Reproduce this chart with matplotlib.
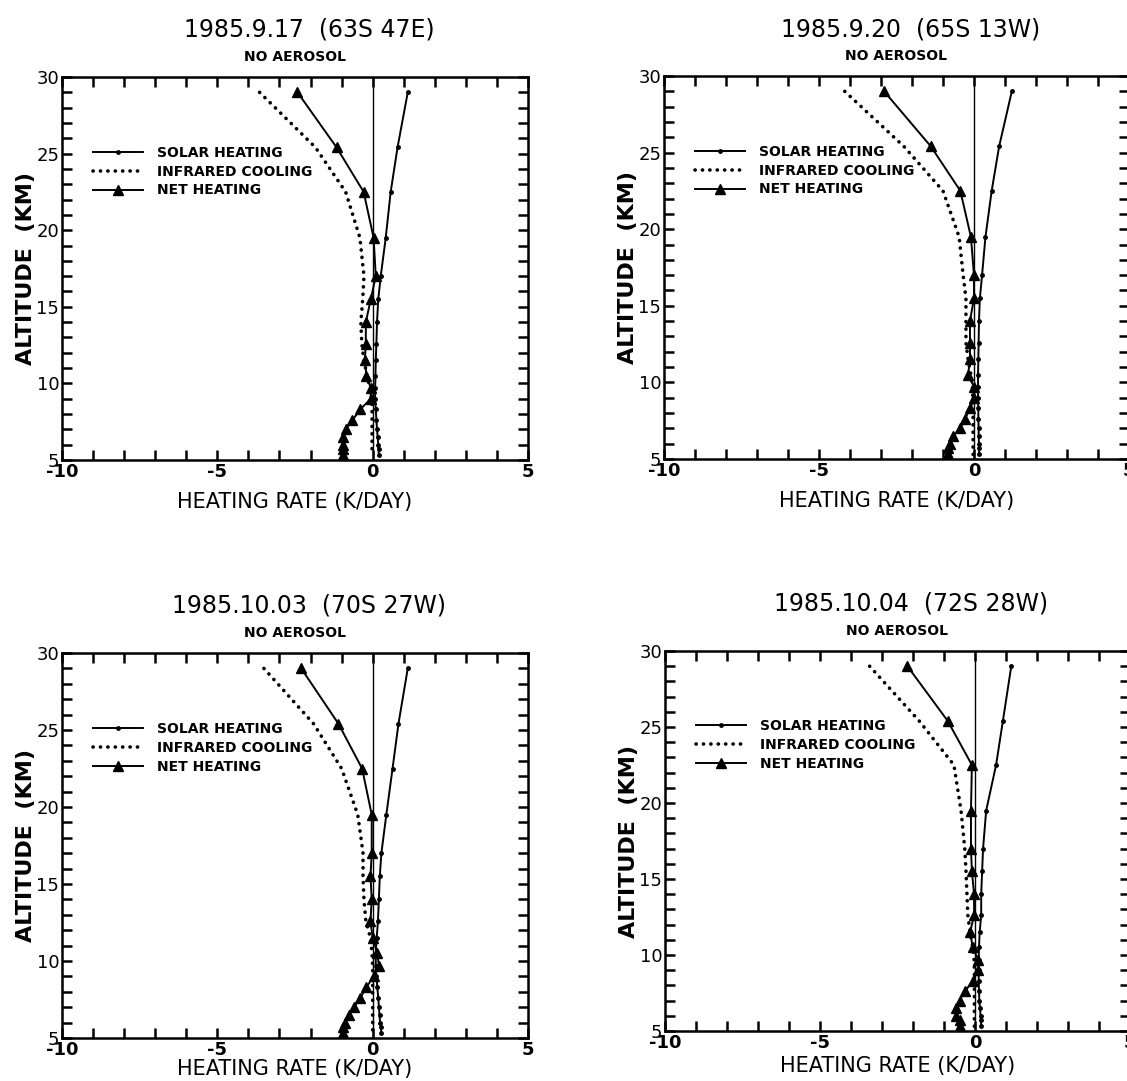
import numpy as np
import matplotlib
matplotlib.use('Agg')
import matplotlib.pyplot as plt
from matplotlib.ticker import MultipleLocator, FuncFormatter

plt.rcParams['axes.unicode_minus'] = False
plt.rcParams['font.family'] = ['DejaVu Sans']

# --- data ---
titles = ['1985.9.17  (63S 47E)', '1985.9.20  (65S 13W)',
          '1985.10.03  (70S 27W)', '1985.10.04  (72S 28W)']
subtitle = 'NO AEROSOL'
legend_labels = ['SOLAR HEATING', 'INFRARED COOLING', 'NET HEATING']

# altitude levels (km)
alt = [29.0, 25.4, 22.5, 19.5, 17.0, 15.5, 14.0, 12.6, 11.5, 10.5,
       9.7, 9.0, 8.3, 7.6, 7.0, 6.5, 6.0, 5.7, 5.3]

solar_1 = [1.13, 0.80, 0.58, 0.42, 0.26, 0.18, 0.14, 0.12, 0.10, 0.09,
           0.08, 0.08, 0.10, 0.12, 0.14, 0.16, 0.18, 0.19, 0.20]
ir_1 = [-3.64, -1.84, -0.87, -0.41, -0.28, -0.32, -0.38, -0.35, -0.28, -0.18,
        -0.09, -0.03, -0.02, -0.02, -0.02, -0.02, -0.02, -0.02, -0.02]
net_1 = [-2.42, -1.16, -0.29, 0.03, 0.10, -0.06, -0.22, -0.22, -0.25, -0.20,
         -0.06, -0.06, -0.40, -0.65, -0.87, -0.97, -0.97, -0.97, -0.97]

solar_2 = [1.22, 0.81, 0.57, 0.37, 0.26, 0.19, 0.16, 0.15, 0.14, 0.13,
           0.13, 0.13, 0.14, 0.14, 0.15, 0.15, 0.16, 0.16, 0.17]
ir_2 = [-4.17, -2.26, -1.00, -0.48, -0.35, -0.26, -0.26, -0.26, -0.19, -0.10,
        -0.05, -0.04, -0.03, -0.03, -0.03, -0.03, -0.03, -0.03, -0.03]
net_2 = [-2.90, -1.39, -0.44, -0.10, 0.00, 0.00, -0.13, -0.13, -0.13, -0.19,
         0.00, 0.00, -0.13, -0.29, -0.45, -0.68, -0.77, -0.84, -0.84]

solar_3 = [1.13, 0.83, 0.64, 0.44, 0.28, 0.23, 0.20, 0.17, 0.13, 0.10,
           0.10, 0.12, 0.15, 0.18, 0.20, 0.22, 0.24, 0.26, 0.28]
ir_3 = [-3.50, -1.90, -1.00, -0.48, -0.31, -0.31, -0.28, -0.22, -0.07, -0.02,
        0.00, 0.00, 0.00, 0.00, 0.00, 0.00, 0.00, 0.00, 0.00]
net_3 = [-2.30, -1.10, -0.34, -0.03, -0.03, -0.07, -0.03, -0.07, 0.00, 0.15,
         0.20, 0.03, -0.20, -0.40, -0.60, -0.76, -0.90, -0.95, -0.95]

solar_4 = [1.17, 0.90, 0.68, 0.36, 0.26, 0.23, 0.20, 0.20, 0.15, 0.13,
           0.12, 0.12, 0.12, 0.13, 0.14, 0.16, 0.18, 0.19, 0.20]
ir_4 = [-3.40, -1.80, -0.68, -0.45, -0.33, -0.29, -0.26, -0.23, -0.16, -0.07,
        -0.03, -0.02, -0.02, -0.02, -0.02, -0.02, -0.02, -0.02, -0.02]
net_4 = [-2.18, -0.88, -0.10, -0.13, -0.13, -0.10, -0.03, -0.03, -0.16, -0.07,
         0.10, 0.10, -0.07, -0.33, -0.50, -0.60, -0.60, -0.50, -0.50]

panels = [(solar_1, ir_1, net_1), (solar_2, ir_2, net_2),
          (solar_3, ir_3, net_3), (solar_4, ir_4, net_4)]

W, H = 1127, 1081
# axes boxes in pixels: left, top, right, bottom
boxes = [(62, 77, 528, 460), (664, 76, 1129, 459),
         (62, 653, 528, 1038), (665, 651, 1130, 1031)]
xlabel_pads = [8, 8, 0, 3]

fig = plt.figure(figsize=(W / 100, H / 100), dpi=100)


def five_only(v, pos):
    if abs(v - round(v)) < 1e-6 and int(round(v)) % 5 == 0:
        return '%d' % int(round(v))
    return ''


for k, (solar, ir, net) in enumerate(panels):
    l, t, r, b = boxes[k]
    ax = fig.add_axes([l / W, 1 - b / H, (r - l) / W, (b - t) / H])

    ax.axvline(0, color='black', lw=1.0)
    h1, = ax.plot(solar, alt, '-', color='black', lw=1.4, marker='o', ms=2.5)
    h2, = ax.plot(ir, alt, color='black', lw=2.6, linestyle=(0, (0.05, 2.0)),
                  dash_capstyle='round')
    h3, = ax.plot(net, alt, '-', color='black', lw=1.4, marker='^', ms=7)

    ax.set_xlim(-10, 5)
    ax.set_ylim(5, 30)
    ax.xaxis.set_major_locator(MultipleLocator(1))
    ax.yaxis.set_major_locator(MultipleLocator(1))
    ax.xaxis.set_major_formatter(FuncFormatter(five_only))
    ax.yaxis.set_major_formatter(FuncFormatter(five_only))
    ax.tick_params(direction='in', top=True, right=True, length=7, width=1.8,
                   labelsize=13, pad=2)
    for lab in ax.get_xticklabels():
        lab.set_fontweight('bold')
    for s in ax.spines.values():
        s.set_linewidth(1.8)

    ax.set_xlabel('HEATING RATE (K/DAY)', fontsize=15, labelpad=xlabel_pads[k])
    ax.set_ylabel('ALTITUDE  (KM)', fontsize=16, fontweight='bold', labelpad=0)

    ax.text(0.53, 1.0 + 47 / (b - t), titles[k], transform=ax.transAxes,
            ha='center', va='center', fontsize=17)
    ax.text(0.5, 1.0 + 20 / (b - t), subtitle, transform=ax.transAxes,
            ha='center', va='center', fontsize=10, fontweight='bold')

    ax.legend([h1, h2, h3], legend_labels, loc='upper left',
              bbox_to_anchor=(0.055, 0.835), frameon=False, handlelength=3.6,
              handletextpad=1.0, labelspacing=0.35, borderaxespad=0,
              prop={'size': 10, 'weight': 'bold'})

fig.savefig('out.png', dpi=100)
